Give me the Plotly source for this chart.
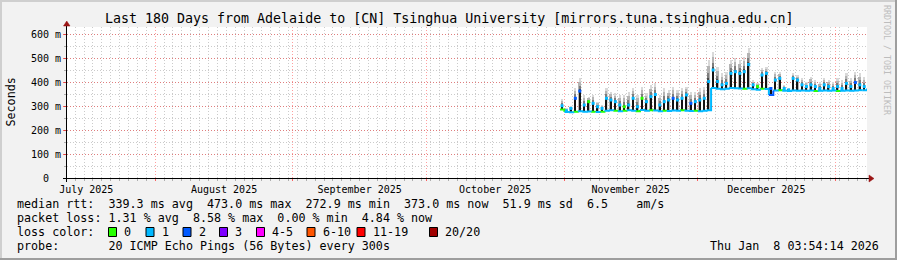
import plotly.graph_objects as go
from datetime import datetime, timedelta

# ---------------- data ----------------
TITLE = "Last 180 Days from Adelaide to [CN] Tsinghua University [mirrors.tuna.tsinghua.edu.cn]"
range_start = "2025-07-12 03:54:14"
range_end = "2026-01-08 03:54:14"
first_day = "2025-10-31"

y_tick_vals = [0, 100, 200, 300, 400, 500, 600]
y_tick_text = ["0  ", "100 m", "200 m", "300 m", "400 m", "500 m", "600 m"]

# daily median rtt (ms): low level of the day
median_base = [285, 275, 274, 276, 278, 276, 277, 276, 275, 276,
               280, 282, 280, 278, 280, 282, 280, 278, 283, 280,
               282, 281, 278, 280, 279, 281, 280, 282, 280, 279,
               280, 278, 280, 282,
               375, 372, 370, 372, 375, 374, 373, 372, 374, 370,
               368, 372, 371, 346, 365, 366, 364, 363, 365, 364,
               365, 364, 365, 363, 364, 365, 364, 365, 363, 364,
               365, 364, 365, 366, 366]
# daily median rtt (ms): peak of the day
median_peak = [301, 280, 290, 332, 362, 304, 318, 311, 297, 290,
               332, 325, 318, 304, 297, 304, 332, 297, 332, 318,
               339, 348, 304, 318, 325, 332, 325, 332, 346, 311,
               318, 325, 332, 402,
               450, 402, 388, 394, 436, 443, 436, 443, 473, 388,
               381, 429, 436, 373, 408, 415, 373, 367, 415, 408,
               388, 381, 388, 381, 373, 388, 381, 373, 381, 373,
               394, 381, 398, 388, 381]
# daily smoke maximum (ms)
smoke_top = [330, 290, 300, 374, 416, 346, 339, 346, 318, 304,
             374, 360, 353, 346, 346, 360, 374, 346, 381, 353,
             387, 394, 346, 374, 367, 381, 367, 374, 381, 360,
             360, 374, 381, 492,
             526, 464, 436, 443, 492, 499, 492, 506, 541, 408,
             394, 457, 464, 380, 443, 443, 388, 375, 436, 429,
             415, 401, 422, 408, 401, 415, 408, 401, 415, 408,
             436, 415, 443, 436, 420]
# lost pings (of 20) at the low / peak sample of each day
loss_base = [0, 1, 1, 0, 1, 1, 1, 0, 1, 0, 1, 1, 0, 1, 0, 1, 1, 0, 1, 1,
             0, 1, 1, 0, 1, 1, 1, 0, 1, 1, 0, 1, 1, 1,
             1, 1, 1, 1, 1, 1, 1, 0, 1, 1, 1, 0, 1, 2, 1, 0, 1, 1, 1, 1,
             1, 1, 1, 0, 1, 1, 1, 1, 0, 1, 1, 1, 1, 1, 1]
loss_peak = [1, 1, 1, 2, 2, 1, 0, 1, 1, 1, 1, 1, 1, 1, 0, 1, 1, 1, 0, 1,
             1, 1, 1, 1, 1, 2, 1, 1, 1, 2, 1, 1, 1, 1,
             1, 1, 1, 1, 1, 1, 1, 1, 1, 1, 0, 1, 1, 2, 1, 1, 1, 1, 1, 1,
             1, 1, 1, 1, 1, 1, 1, 1, 1, 1, 1, 1, 2, 1, 1]
now_value = 373.0

loss_labels = ["0", "1", "2", "3", "4-5", "6-10", "11-19", "20/20"]
loss_colors = ["#26ff00", "#00b8ff", "#0059ff", "#7e00ff", "#ff00ff", "#ff5500", "#ff0000", "#a00000"]

line_rtt = "median rtt:  339.3 ms avg  473.0 ms max  272.9 ms min  373.0 ms now  51.9 ms sd  6.5    am/s"
line_loss = "packet loss: 1.31 % avg  8.58 % max  0.00 % min  4.84 % now"
line_color = "loss color:"
line_probe = "probe:       20 ICMP Echo Pings (56 Bytes) every 300s"
stamp = "Thu Jan  8 03:54:14 2026"
side_text = "RRDTOOL / TOBI OETIKER"

# ---------------- geometry ----------------
W, H = 897, 260
L, R, T, B = 67, 30, 27, 82
PW, PH = W - L - R, H - T - B
Y_TOP = 629.2
FONT = "DejaVu Sans Mono"


def px(x):
    return (x - L) / PW


def py(y):
    return (H - B - y) / PH


def nb(s):
    return s.replace(" ", "\u00a0")


d0 = datetime.fromisoformat(first_day)
n = len(median_peak)
t_base = [d0 + timedelta(days=i, hours=2) for i in range(n)]
t_peak = [d0 + timedelta(days=i, hours=13) for i in range(n)]
t_end = datetime.fromisoformat(range_end)
t_base_ext = t_base + [t_end]
base_ext = median_base[:n] + [now_value]

fig = go.Figure()

# smoke: shaded bands from the daily low up to the smoke maximum (darker near the median)
lows = median_base[:n]
shades = [(1.00, "#d9d9d9", 0.50), (0.70, "#b4b4b4", 0.42), (0.40, "#7c7c7c", 0.36), (0.15, "#4a4a4a", 0.32)]
for frac, col, wd in shades:
    lvl = [p + (s - p) * frac for p, s in zip(median_peak, smoke_top)]
    fig.add_trace(go.Bar(x=t_peak, y=[v - b for v, b in zip(lvl, lows)], base=lows,
                         width=wd * 86400000, marker=dict(color=col, line=dict(width=0)), hoverinfo="skip"))
fig.add_trace(go.Bar(x=t_peak, y=[p - b for p, b in zip(median_peak, lows)], base=lows,
                     width=0.32 * 86400000, marker=dict(color="#141414", line=dict(width=0)), hoverinfo="skip"))

# median base line, coloured by loss (step shape)
segs = {}
for i in range(len(t_base_ext) - 1):
    c = loss_colors[loss_base[i]]
    xs, ys = segs.setdefault(c, ([], []))
    xs += [t_base_ext[i], t_base_ext[i + 1], t_base_ext[i + 1], None]
    ys += [base_ext[i], base_ext[i], base_ext[i + 1], None]
for c, (xs, ys) in segs.items():
    fig.add_trace(go.Scatter(x=xs, y=ys, mode="lines", line=dict(color=c, width=2),
                             hoverinfo="skip", connectgaps=False))

# median peak points
fig.add_trace(go.Scatter(x=t_peak, y=median_peak, mode="markers",
                         marker=dict(symbol="square", size=3,
                                     color=[loss_colors[k] for k in loss_peak], line=dict(width=0)),
                         hoverinfo="skip"))

grid_major = "rgba(255,0,0,0.38)"
grid_minor = "rgba(130,130,130,0.42)"

fig.update_layout(
    width=W, height=H, autosize=False,
    margin=dict(l=L, r=R, t=T, b=B, pad=0),
    paper_bgcolor="#f2f2f2", plot_bgcolor="#ffffff",
    showlegend=False, barmode="overlay", bargap=0,
    font=dict(family=FONT, size=10, color="#000000"),
    xaxis=dict(type="date", range=[range_start, range_end], showline=False, zeroline=False,
               dtick="M1", tick0="2025-07-01", ticklabelmode="period", tickformat="%B %Y",
               showgrid=True, gridcolor=grid_major, griddash="1px,2px", gridwidth=1,
               ticks="outside", ticklen=2, tickcolor="rgba(255,0,0,0.6)",
               tickfont=dict(family=FONT, size=10, color="#000"),
               minor=dict(dtick=2 * 86400000, tick0="2025-07-02", showgrid=True,
                          gridcolor=grid_minor, griddash="1px,2px", gridwidth=1,
                          ticks="outside", ticklen=2, tickcolor="rgba(130,130,130,0.6)")),
    yaxis=dict(range=[0, Y_TOP], showline=False, zeroline=False,
               tickmode="array", tickvals=y_tick_vals, ticktext=[nb(s) for s in y_tick_text],
               showgrid=True, gridcolor=grid_major, griddash="1px,2px", gridwidth=1,
               ticks="outside", ticklen=3, tickcolor="rgba(255,0,0,0.6)",
               tickfont=dict(family=FONT, size=10, color="#000"),
               minor=dict(dtick=50, showgrid=True, gridcolor=grid_minor, griddash="1px,2px",
                          gridwidth=1, ticks="outside", ticklen=2, tickcolor="rgba(130,130,130,0.6)")),
)

shapes = []
# axes
shapes.append(dict(type="line", xref="paper", yref="paper", x0=px(63), x1=px(869), y0=py(178.5), y1=py(178.5),
                   line=dict(color="#000", width=1)))
shapes.append(dict(type="line", xref="paper", yref="paper", x0=px(66.5), x1=px(66.5), y0=py(182), y1=py(25),
                   line=dict(color="#000", width=1)))
# arrow heads
arrow_c = "#9a1515"
shapes.append(dict(type="path", xref="paper", yref="paper", fillcolor=arrow_c, line=dict(color=arrow_c, width=0.5),
                   path=f"M {px(63.5)} {py(26)} L {px(70)} {py(26)} L {px(66.75)} {py(21)} Z"))
shapes.append(dict(type="path", xref="paper", yref="paper", fillcolor=arrow_c, line=dict(color=arrow_c, width=0.5),
                   path=f"M {px(869)} {py(175)} L {px(869)} {py(182)} L {px(874)} {py(178.5)} Z"))
# frame
shapes.append(dict(type="line", xref="paper", yref="paper", x0=px(0), x1=px(W), y0=py(1), y1=py(1),
                   line=dict(color="#cfcfcf", width=2)))
shapes.append(dict(type="line", xref="paper", yref="paper", x0=px(1), x1=px(1), y0=py(0), y1=py(H),
                   line=dict(color="#cfcfcf", width=2)))
shapes.append(dict(type="line", xref="paper", yref="paper", x0=px(0), x1=px(W), y0=py(H - 1), y1=py(H - 1),
                   line=dict(color="#9e9e9e", width=2)))
shapes.append(dict(type="line", xref="paper", yref="paper", x0=px(W - 1), x1=px(W - 1), y0=py(0), y1=py(H),
                   line=dict(color="#9e9e9e", width=2)))
# loss colour boxes
box_x = [108.5, 146, 183, 219.5, 256.5, 307, 357, 429.5]
for bx, c in zip(box_x, loss_colors):
    shapes.append(dict(type="rect", xref="paper", yref="paper", x0=px(bx), x1=px(bx + 8), y0=py(236.5), y1=py(227.5),
                       fillcolor=c, line=dict(color="#000", width=1)))

ann = []


def text(x, y, s, size=11.7, xanchor="left", angle=0, color="#000"):
    ann.append(dict(xref="paper", yref="paper", x=px(x), y=py(y), text=nb(s), showarrow=False,
                    xanchor=xanchor, yanchor="middle", textangle=angle, borderpad=0,
                    font=dict(family=FONT, size=size, color=color)))


text(W / 2, 19, TITLE, size=13.3, xanchor="center")
text(10.5, 102, "Seconds", size=11.7, xanchor="center", angle=-90)
text(887, 60, side_text, size=8.3, xanchor="center", angle=90, color="#bdbdbd")
text(16, 204.3, line_rtt)
text(16, 218.3, line_loss)
text(16, 232.3, line_color)
text(16, 246, line_probe)
text(880, 246, stamp, xanchor="right")
for bx, lab in zip(box_x, loss_labels):
    text(bx + 14.5, 232.3, lab)

fig.update_layout(shapes=shapes, annotations=ann)
fig.write_html("out.html")
